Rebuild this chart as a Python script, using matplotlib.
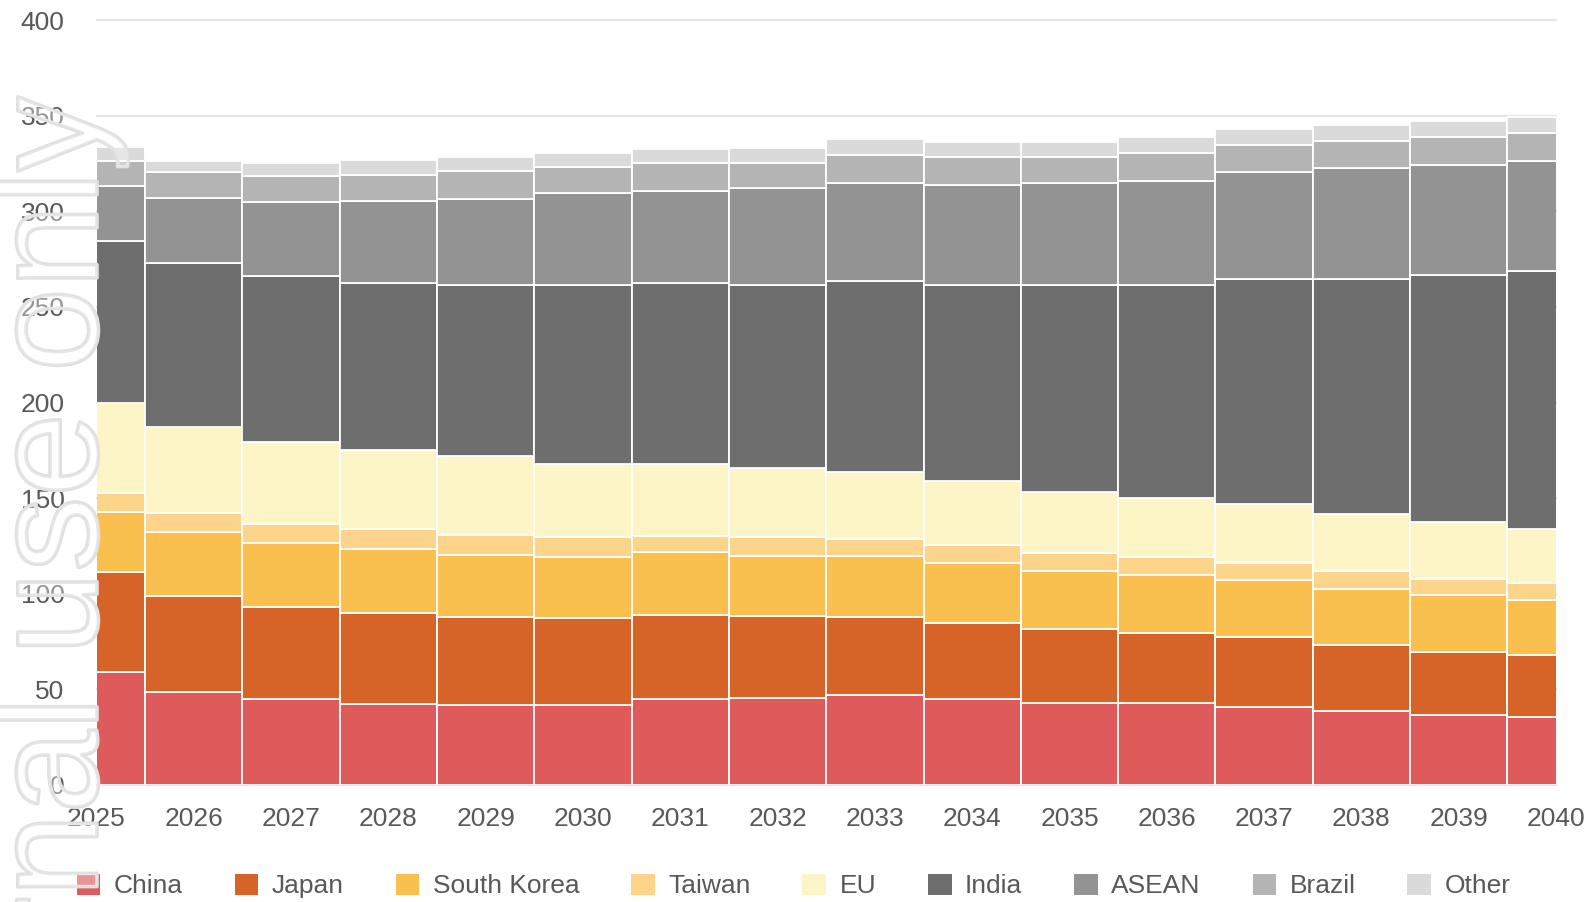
import numpy as np
import matplotlib.pyplot as plt
import matplotlib.patheffects as pe
from matplotlib.patches import Patch

plt.rcParams['font.family'] = ['Liberation Sans', 'DejaVu Sans']

years = list(range(2025, 2041))
regions = ["China", "Japan", "South Korea", "Taiwan", "EU", "India", "ASEAN", "Brazil", "Other"]
colors = ["#df5a5a", "#d66428", "#f9c050", "#fdd58a", "#fef5c6", "#6e6e6e", "#939393", "#b4b4b4", "#dadada"]

china = [59.3, 48.8, 44.8, 42.6, 41.7, 41.7, 45.0, 45.7, 46.8, 45.0, 42.8, 42.8, 40.7, 38.6, 36.5, 35.4]
japan = [52.2, 50.2, 48.1, 47.4, 46.1, 45.4, 44.0, 42.6, 41.0, 39.8, 38.7, 36.8, 36.8, 34.7, 32.8, 32.7]
south_korea = [31.4, 33.5, 33.5, 33.3, 32.5, 32.3, 32.8, 31.3, 31.8, 31.1, 30.4, 30.4, 29.5, 29.3, 30.2, 28.4]
taiwan = [9.6, 9.6, 10.1, 10.5, 10.3, 10.5, 8.6, 10.1, 8.9, 9.4, 9.4, 9.4, 9.1, 9.3, 8.2, 9.3]
eu = [47.0, 45.1, 43.0, 41.4, 41.5, 38.0, 37.5, 36.3, 35.4, 33.4, 31.8, 30.7, 30.9, 30.0, 30.0, 27.9]
india = [85.1, 86.0, 86.4, 87.4, 89.4, 93.6, 94.6, 95.5, 99.7, 102.8, 108.4, 111.4, 117.6, 122.7, 129.0, 135.1]
asean = [28.4, 33.5, 38.7, 42.9, 45.0, 48.3, 48.2, 50.4, 51.3, 52.2, 53.4, 54.3, 55.7, 57.8, 57.6, 57.6]
brazil = [13.4, 13.6, 13.6, 13.4, 14.5, 13.5, 14.5, 13.5, 14.5, 14.8, 13.6, 14.8, 14.5, 14.5, 14.5, 14.5]
other = [7.0, 5.8, 7.0, 8.1, 7.5, 7.1, 7.3, 7.8, 8.2, 7.9, 7.9, 8.0, 8.0, 8.0, 8.2, 8.2]

series = [china, japan, south_korea, taiwan, eu, india, asean, brazil, other]

fig = plt.figure(figsize=(15.87, 9.02), dpi=100)
ax = fig.add_axes([96.5/1587, 117/902, (1556-96.5)/1587, 765/902])

bottom = np.zeros(len(years))
for vals, col, name in zip(series, colors, regions):
    ax.bar(years, vals, bottom=bottom, width=1.0, color=col, edgecolor="white",
           linewidth=1.3, label=name, zorder=3)
    bottom += np.array(vals)

ax.set_xlim(2025, 2040)
ax.set_ylim(0, 400)
ax.set_yticks(range(0, 401, 50))
ax.set_xticks(years)
ax.yaxis.grid(True, color="#e6e6e6", linewidth=1.6, zorder=0)
for gl in ax.get_ygridlines():
    gl.set_clip_on(False)
ax.set_axisbelow(True)
for s in ax.spines.values():
    s.set_visible(False)
ax.tick_params(axis="both", length=0, labelsize=19, labelcolor="#595959")
ax.tick_params(axis="y", pad=23)
ax.tick_params(axis="x", pad=15.5)

handles = [Patch(facecolor=c, edgecolor="none") for c in colors]
fig.legend(handles, regions, loc="center", bbox_to_anchor=(0.5, 16/902), ncol=9,
           frameon=False, fontsize=19, labelcolor="#595959", handlelength=0.9,
           handleheight=0.85, handletextpad=0.5, columnspacing=1.97, borderaxespad=0)

# watermark
fig.text(97/1587, 805/902, "Internal use only", transform=fig.transFigure, rotation=90,
         rotation_mode="anchor", ha="right", va="baseline", fontsize=108,
         color=(1, 1, 1, 0.2), zorder=10,
         path_effects=[pe.Stroke(linewidth=2.6, foreground="#e0e0e0"), pe.Normal()])

plt.savefig("out.png", dpi=100)
plt.close()
